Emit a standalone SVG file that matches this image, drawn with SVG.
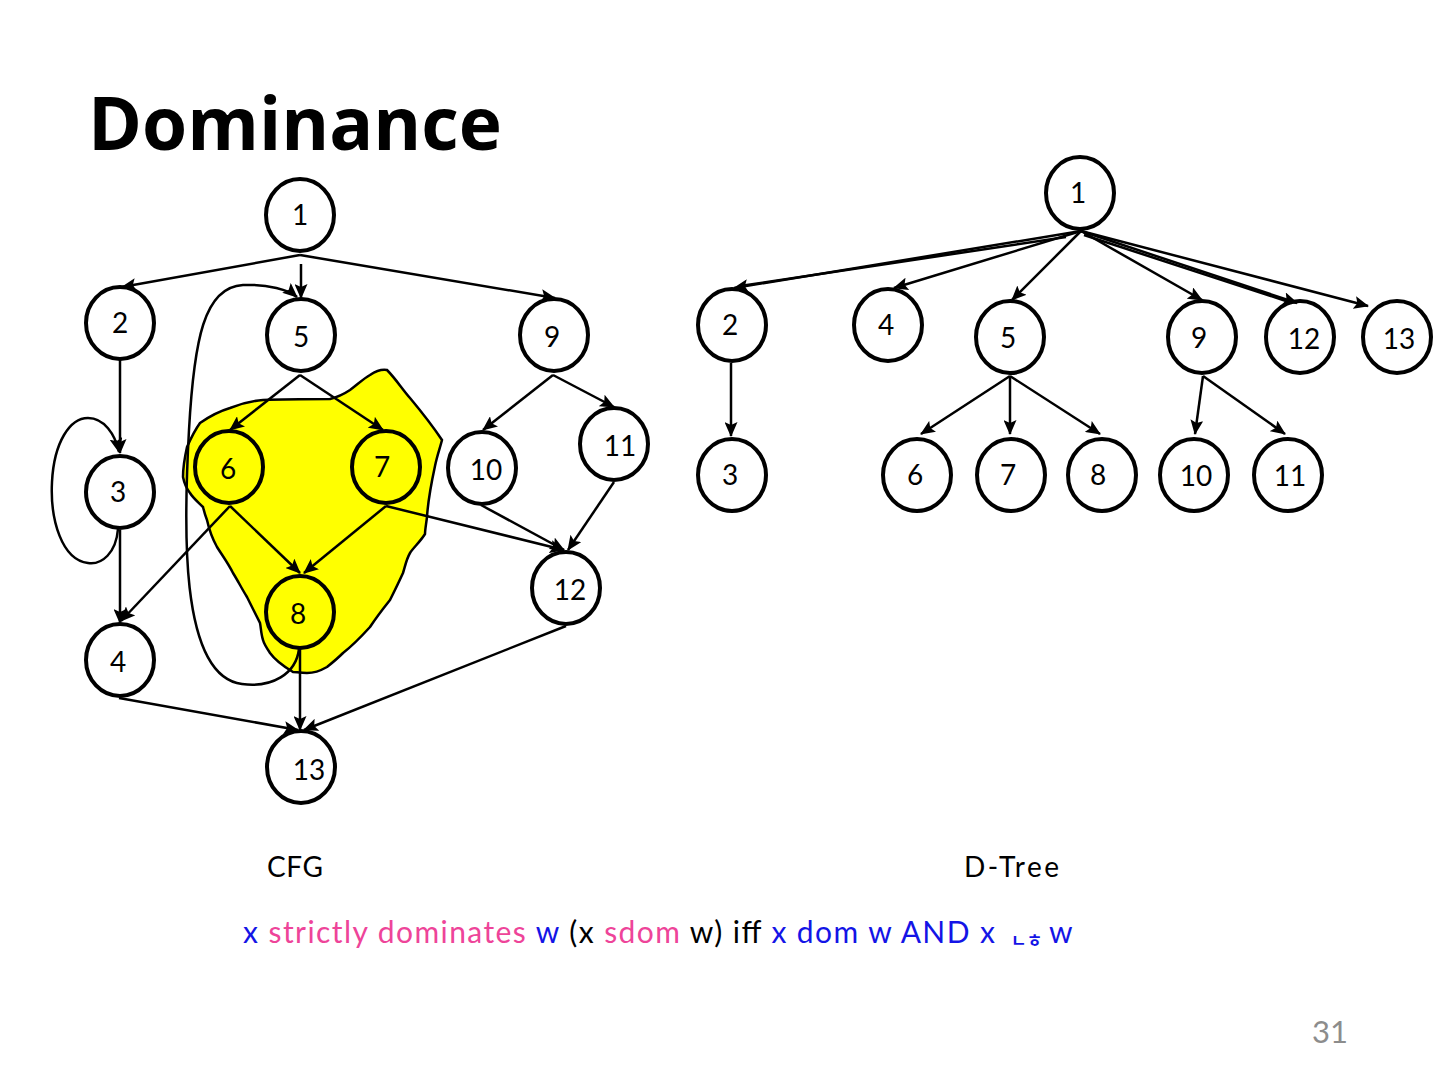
<svg xmlns="http://www.w3.org/2000/svg" width="1440" height="1080" viewBox="0 0 1440 1080">
<defs>
<marker id="ah" viewBox="0 0 15 13" refX="14" refY="6.5" markerWidth="15" markerHeight="13" markerUnits="userSpaceOnUse" orient="auto">
<path d="M0,0 L15,6.5 L0,13 L3,6.5 Z" fill="#000"/>
</marker>
<style>
.n ellipse{fill:none;stroke:#000;stroke-width:4}
.n text{font-family:Lato,"Open Sans",sans-serif;font-size:28px;fill:#000;text-anchor:middle}
.e line,.e path{stroke:#000;stroke-width:2.5;fill:none}
.a{marker-end:url(#ah)}
.lbl{font-family:Lato,"Open Sans",sans-serif;font-size:28px;fill:#000}
.blue{fill:#1414e6}
.pink{fill:#ee4499}
</style>
</defs>
<rect width="1440" height="1080" fill="#fff"/>
<text x="88" y="150" font-family="'Open Sans','Liberation Sans',sans-serif" font-weight="bold" font-size="73" fill="#000">Dominance</text>

<path id="blob" d="M387,370 C395,378 403,390 410,398 C420,410 432,425 442,440 C440,448 437,456 435,466 C432,480 428,500 427,517 C426,525 425,530 425,534 C420,542 413,548 410,553 C406,560 405,567 403,573 C398,584 394,592 390,600 C382,610 376,618 370,627 C360,638 352,646 343,653 C337,659 332,663 327,667 C320,671 313,673 307,673 C300,673 296,672 293,672 C283,666 275,660 270,653 C266,647 264,644 263,640 C261,634 261,628 260,623 C255,613 251,605 247,597 C242,589 238,581 233,573 C228,563 222,555 217,547 C212,538 209,529 207,520 C205,515 204,511 203,507 C198,502 193,498 190,493 C186,488 184,482 183,477 C183,466 185,456 187,447 C191,438 195,430 200,423 C210,416 220,411 230,408 C240,404 250,401 263,400 C285,399 308,399 330,399 C338,397 344,394 350,390 C357,385 363,379 370,375 C376,371 382,369 387,370 Z" fill="#ffff00" stroke="#000" stroke-width="2.5"/>

<g id="connectors" class="e">
<!-- CFG -->
<line class="a" x1="300" y1="255" x2="122" y2="287"/>
<line class="a" x1="300" y1="255" x2="555" y2="298"/>
<line class="a" x1="301" y1="264" x2="301" y2="298"/>
<path class="a" d="M299,649 C296,674 272,688 242,684 C178,676 184,520 189,430 C194,340 204,287 243,285 C268,284 289,290 297,297"/>
<line class="a" x1="120" y1="360" x2="120" y2="453"/>
<path class="a" d="M118,529 C116,553 102,565 88,563 C62,560 50,520 52,482 C54,442 70,418 88,418 C104,418 115,434 119,452"/>
<line class="a" x1="120" y1="530" x2="120" y2="623"/>
<line class="a" x1="300" y1="375" x2="230" y2="430"/>
<line class="a" x1="300" y1="375" x2="383" y2="430"/>
<line class="a" x1="553" y1="375" x2="483" y2="430"/>
<line class="a" x1="553" y1="375" x2="614" y2="407"/>
<line class="a" x1="230" y1="506" x2="121" y2="621"/>
<line class="a" x1="230" y1="506" x2="300" y2="573"/>
<line class="a" x1="386" y1="506" x2="304" y2="573"/>
<line class="a" x1="386" y1="506" x2="564" y2="550"/>
<line class="a" x1="481" y1="505" x2="564" y2="550"/>
<line class="a" x1="614" y1="482" x2="568" y2="550"/>
<line class="a" x1="119" y1="698" x2="298" y2="730"/>
<line class="a" x1="300" y1="648" x2="300" y2="730"/>
<line class="a" x1="566" y1="626" x2="304" y2="730"/>
<!-- D-Tree -->
<line class="a" x1="1081" y1="231" x2="734" y2="288"/>
<line x1="1066" y1="237" x2="740" y2="286"/>
<line class="a" x1="1081" y1="231" x2="894" y2="288"/>
<line class="a" x1="1081" y1="231" x2="1012" y2="300"/>
<line class="a" x1="1081" y1="231" x2="1202" y2="300"/>
<line class="a" x1="1081" y1="231" x2="1297" y2="303"/>
<line x1="1084" y1="235" x2="1292" y2="303"/>
<line class="a" x1="1081" y1="231" x2="1368" y2="306"/>
<line class="a" x1="731" y1="363" x2="731" y2="436"/>
<line class="a" x1="1010" y1="376" x2="921" y2="434"/>
<line class="a" x1="1010" y1="376" x2="1010" y2="434"/>
<line class="a" x1="1010" y1="376" x2="1100" y2="434"/>
<line class="a" x1="1203" y1="376" x2="1195" y2="434"/>
<line class="a" x1="1203" y1="376" x2="1285" y2="434"/>
</g>

<!-- CFG nodes -->
<g id="cfg1" class="n"><ellipse cx="300" cy="215" rx="34" ry="36"/><text x="300" y="225">1</text></g>
<g id="cfg2" class="n"><ellipse cx="120" cy="323" rx="34" ry="36"/><text x="120" y="333">2</text></g>
<g id="cfg5" class="n"><ellipse cx="301" cy="335" rx="34" ry="36"/><text x="301" y="347">5</text></g>
<g id="cfg9" class="n"><ellipse cx="554" cy="335" rx="34" ry="36"/><text x="552" y="347">9</text></g>
<g id="cfg11" class="n"><ellipse cx="614" cy="444" rx="34" ry="36"/><text x="620" y="456">11</text></g>
<g id="cfg6" class="n"><ellipse cx="229" cy="467" rx="34" ry="36"/><text x="228" y="479">6</text></g>
<g id="cfg7" class="n"><ellipse cx="386" cy="467" rx="34" ry="36"/><text x="382" y="477">7</text></g>
<g id="cfg10" class="n"><ellipse cx="482" cy="468" rx="34" ry="36"/><text x="486" y="480">10</text></g>
<g id="cfg3" class="n"><ellipse cx="120" cy="492" rx="34" ry="36"/><text x="118" y="502">3</text></g>
<g id="cfg12" class="n"><ellipse cx="566" cy="588" rx="34" ry="36"/><text x="570" y="600">12</text></g>
<g id="cfg8" class="n"><ellipse cx="300" cy="612" rx="34" ry="36"/><text x="298" y="624">8</text></g>
<g id="cfg4" class="n"><ellipse cx="120" cy="660" rx="34" ry="36"/><text x="118" y="672">4</text></g>
<g id="cfg13" class="n"><ellipse cx="301" cy="767" rx="34" ry="36"/><text x="309" y="780">13</text></g>

<!-- D-Tree nodes -->
<g id="dt1" class="n"><ellipse cx="1080" cy="193" rx="34" ry="36"/><text x="1078" y="203">1</text></g>
<g id="dt2" class="n"><ellipse cx="732" cy="325" rx="34" ry="36"/><text x="730" y="335">2</text></g>
<g id="dt4" class="n"><ellipse cx="888" cy="325" rx="34" ry="36"/><text x="886" y="335">4</text></g>
<g id="dt5" class="n"><ellipse cx="1010" cy="337" rx="34" ry="36"/><text x="1008" y="348">5</text></g>
<g id="dt9" class="n"><ellipse cx="1202" cy="337" rx="34" ry="36"/><text x="1199" y="348">9</text></g>
<g id="dt12" class="n"><ellipse cx="1300" cy="337" rx="34" ry="36"/><text x="1304" y="349">12</text></g>
<g id="dt13" class="n"><ellipse cx="1397" cy="337" rx="34" ry="36"/><text x="1399" y="349">13</text></g>
<g id="dt3" class="n"><ellipse cx="732" cy="475" rx="34" ry="36"/><text x="730" y="485">3</text></g>
<g id="dt6" class="n"><ellipse cx="917" cy="475" rx="34" ry="36"/><text x="915" y="485">6</text></g>
<g id="dt7" class="n"><ellipse cx="1011" cy="475" rx="34" ry="36"/><text x="1008" y="485">7</text></g>
<g id="dt8" class="n"><ellipse cx="1102" cy="475" rx="34" ry="36"/><text x="1098" y="485">8</text></g>
<g id="dt10" class="n"><ellipse cx="1194" cy="475" rx="34" ry="36"/><text x="1196" y="486">10</text></g>
<g id="dt11" class="n"><ellipse cx="1288" cy="475" rx="34" ry="36"/><text x="1290" y="486">11</text></g>

<text class="lbl" x="267" y="877" textLength="56">CFG</text>
<text class="lbl" x="964" y="877" textLength="95">D-Tree</text>

<text x="243" y="943" font-family="Lato,'Open Sans',sans-serif" font-size="30" fill="#000" textLength="752"><tspan class="blue">x </tspan><tspan class="pink">strictly dominates </tspan><tspan class="blue">w </tspan><tspan>(x </tspan><tspan class="pink">sdom </tspan><tspan>w) iff </tspan><tspan class="blue">x dom w AND x</tspan></text>
<text x="1011" y="947" font-family="'Noto Sans CJK KR',sans-serif" font-size="17" font-weight="bold" class="blue">ㄴㅎ</text>
<text x="1049" y="943" font-family="Lato,'Open Sans',sans-serif" font-size="30" class="blue">w</text>

<text x="1312" y="1043" font-family="Lato,'Open Sans',sans-serif" font-size="31" fill="#8c8c8c">31</text>
</svg>
